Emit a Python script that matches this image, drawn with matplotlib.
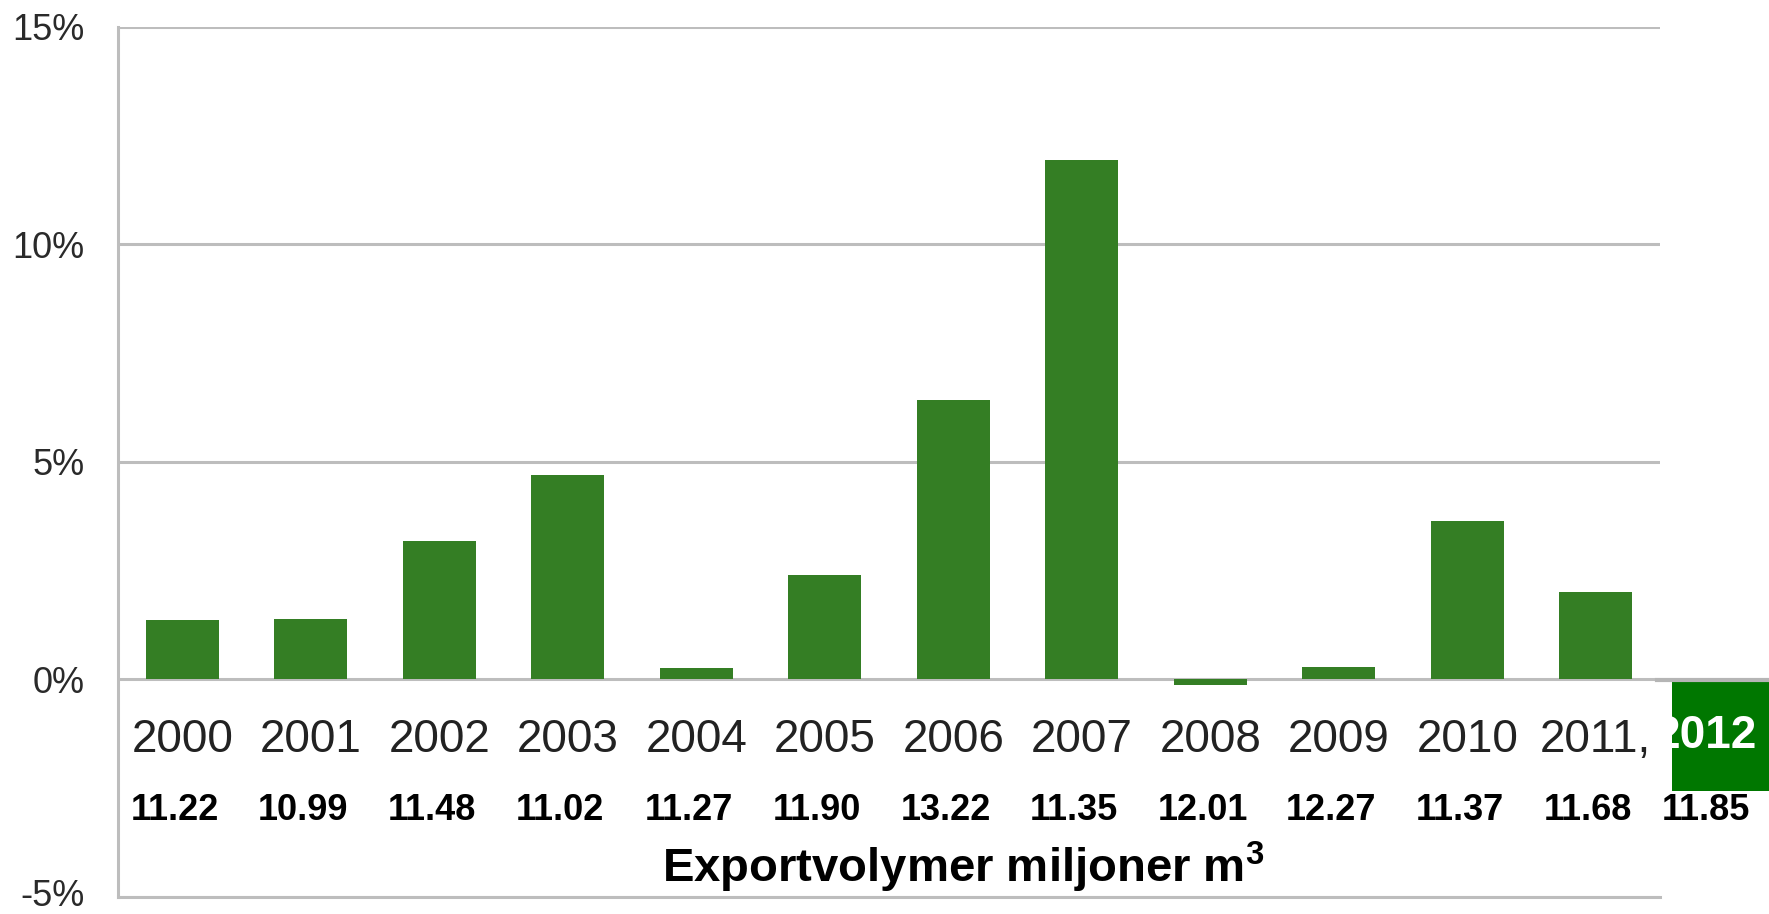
import matplotlib.pyplot as plt
from matplotlib.patches import Rectangle
from matplotlib.lines import Line2D
from matplotlib.transforms import ScaledTranslation

plt.rcParams['font.family'] = ['Liberation Sans', 'DejaVu Sans']
plt.rcParams['mathtext.fontset'] = 'custom'
plt.rcParams['mathtext.rm'] = 'Liberation Sans'
plt.rcParams['mathtext.bf'] = 'Liberation Sans:bold'

years = ['2000', '2001', '2002', '2003', '2004', '2005', '2006',
         '2007', '2008', '2009', '2010', '2011,']
growth = [1.37, 1.40, 3.19, 4.69, 0.26, 2.41, 6.43, 11.95, -0.12, 0.28, 3.65, 2.02]
volumes = ['11.22', '10.99', '11.48', '11.02', '11.27', '11.90', '13.22',
           '11.35', '12.01', '12.27', '11.37', '11.68', '11.85']
extra_year = '2012'

fig = plt.figure(figsize=(17.69, 9.14), dpi=100)
ax = fig.add_axes([0.0667, 0.0186, 0.8717, 0.9519])

x = list(range(len(years)))
ax.bar(x, growth, width=0.57, color='#347e24', zorder=3)

ax.set_xlim(-0.5, len(years) - 0.5)
ax.set_ylim(-5, 15)
ax.set_yticks([-5, 0, 5, 10, 15])
ax.set_yticklabels(['-5%', '0%', '5%', '10%', '15%'], fontsize=26, color='#2a2a2a')
ax.tick_params(axis='y', length=0, pad=24)
# -5% ligger precis vid nederkanten, lyft den lite
lab = ax.get_yticklabels()[0]
lab.set_transform(lab.get_transform() + ScaledTranslation(0, 4 / 100, fig.dpi_scale_trans))
ax.set_xticks([])
ax.grid(axis='y', color='#bdbdbd', linewidth=2.2, zorder=1)
for s in ['top', 'right']:
    ax.spines[s].set_visible(False)
for s in ['left', 'bottom']:
    ax.spines[s].set_color('#bdbdbd')
    ax.spines[s].set_linewidth(2.2)

# årtal och exportvolymer under staplarna
for i, y in enumerate(years):
    ax.text(i, -1.40, y, ha='center', va='center', fontsize=33, color='#222222')
for i, v in enumerate(volumes):
    xi = i - 0.06 if i < len(years) else i - 0.14
    ax.text(xi, -3.02, v, ha='center', va='center', fontsize=26,
            fontweight='bold', color='black', clip_on=False)

ax.text(6.08, -4.33, r'Exportvolymer miljoner m$^{\mathbf{3}}$', ha='center',
        va='center', fontsize=34, fontweight='bold', color='black')

# 2012 i grön ruta till höger
box = Rectangle((0.9452, 0.1346), 0.0548, 0.1193, transform=fig.transFigure,
                facecolor='#007700', edgecolor='none')
fig.patches.append(box)
t = fig.text(0.9640, 0.1950, extra_year, ha='center', va='center', fontsize=33,
             fontweight='bold', color='white')
t.set_clip_path(box)

fig.add_artist(Line2D([0.9367, 1.0], [0.2560, 0.2560], color='#b5b5b5',
                      linewidth=3.0, transform=fig.transFigure))

fig.savefig('out.png', dpi=100)
